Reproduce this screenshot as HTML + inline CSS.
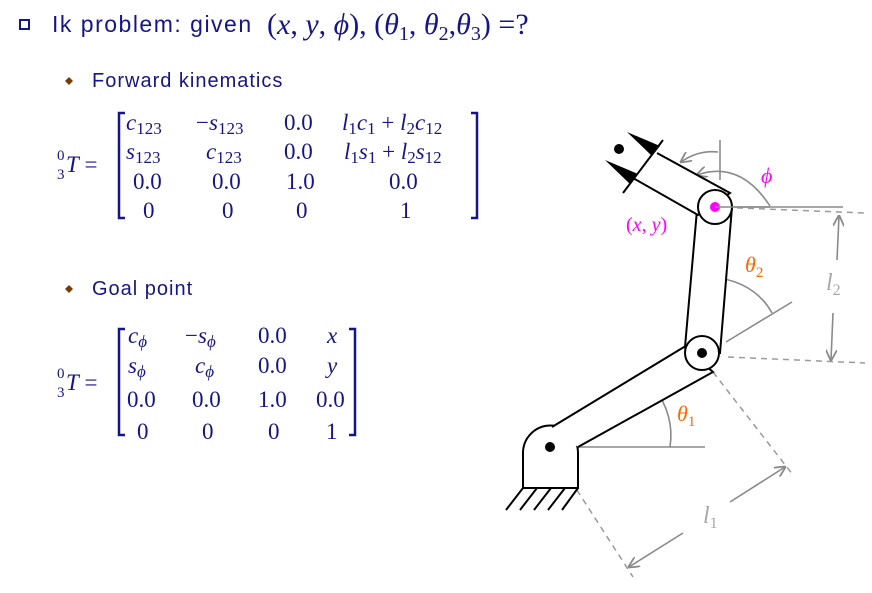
<!DOCTYPE html>
<html><head><meta charset="utf-8"><style>
html,body{margin:0;padding:0;background:#fff;width:872px;height:593px;overflow:hidden}
svg{display:block}
.t{font-family:"Liberation Sans",sans-serif;fill:#15158a}
.m{font-family:"Liberation Serif",serif;fill:#15158a;font-size:23px}
.i{font-style:italic}
.g{stroke:#8a8a8a;stroke-width:1.6;fill:none}
.d{stroke:#9a9a9a;stroke-width:1.5;fill:none;stroke-dasharray:6 5}
.k{stroke:#000;stroke-width:2;fill:#fff}
</style></head><body>
<svg width="872" height="593" viewBox="0 0 872 593">
<defs><marker id="ah" viewBox="0 0 10 10" refX="9" refY="5" markerWidth="7" markerHeight="7" orient="auto"><path d="M0,0 L10,5 L0,10" fill="none" stroke="#8a8a8a" stroke-width="1.6"/></marker></defs>
<rect x="0" y="0" width="872" height="593" fill="#fff"/>
<g>
<rect x="20" y="20" width="9" height="9" fill="#fff" stroke="#15158a" stroke-width="2"/>
<text class="t" x="52" y="32" font-size="23" letter-spacing="1.5">Ik problem: given</text>
<text class="m" x="267" y="34" style="font-size:30px">(<tspan class="i">x</tspan>, <tspan class="i">y</tspan>, <tspan class="i">ϕ</tspan>), (<tspan class="i">θ</tspan><tspan style="font-size:20px" dy="6">1</tspan><tspan dy="-6">, </tspan><tspan class="i">θ</tspan><tspan style="font-size:20px" dy="6">2</tspan><tspan dy="-6">,</tspan><tspan class="i">θ</tspan><tspan style="font-size:20px" dy="6">3</tspan><tspan dy="-6">) =?</tspan></text>
</g>
<g>
<path d="M65,81 l4,-4 l4,4 l-4,4z" fill="#7a3a00"/>
<text class="t" x="92" y="87" font-size="20" letter-spacing="1">Forward kinematics</text>
</g>
<g>
<text class="m" x="57" y="160" style="font-size:15px">0</text>
<text class="m" x="57" y="179" style="font-size:15px">3</text>
<text class="m" x="66" y="172"><tspan class="i">T</tspan> =</text>
<path d="M125,113 h-6 v105 h6" stroke="#15158a" stroke-width="2.5" fill="none"/>
<path d="M471,113 h6 v105 h-6" stroke="#15158a" stroke-width="2.5" fill="none"/>
<text class="m" x="126" y="130"><tspan class="i">c</tspan><tspan font-size="17" dy="4">123</tspan></text>
<text class="m" x="196" y="130">−<tspan class="i">s</tspan><tspan font-size="17" dy="4">123</tspan></text>
<text class="m" x="284" y="130">0.0</text>
<text class="m" x="342" y="130"><tspan class="i">l</tspan><tspan font-size="17" dy="4">1</tspan><tspan class="i" dy="-4">c</tspan><tspan font-size="17" dy="4">1</tspan><tspan dy="-4"> + </tspan><tspan class="i">l</tspan><tspan font-size="17" dy="4">2</tspan><tspan class="i" dy="-4">c</tspan><tspan font-size="17" dy="4">12</tspan></text>
<text class="m" x="126" y="159"><tspan class="i">s</tspan><tspan font-size="17" dy="4">123</tspan></text>
<text class="m" x="206" y="159"><tspan class="i">c</tspan><tspan font-size="17" dy="4">123</tspan></text>
<text class="m" x="284" y="159">0.0</text>
<text class="m" x="344" y="159"><tspan class="i">l</tspan><tspan font-size="17" dy="4">1</tspan><tspan class="i" dy="-4">s</tspan><tspan font-size="17" dy="4">1</tspan><tspan dy="-4"> + </tspan><tspan class="i">l</tspan><tspan font-size="17" dy="4">2</tspan><tspan class="i" dy="-4">s</tspan><tspan font-size="17" dy="4">12</tspan></text>
<text class="m" x="133" y="189">0.0</text><text class="m" x="212" y="189">0.0</text><text class="m" x="286" y="189">1.0</text><text class="m" x="389" y="189">0.0</text>
<text class="m" x="143" y="218">0</text><text class="m" x="222" y="218">0</text><text class="m" x="296" y="218">0</text><text class="m" x="400" y="218">1</text>
</g>
<g>
<path d="M65,289 l4,-4 l4,4 l-4,4z" fill="#7a3a00"/>
<text class="t" x="92" y="295" font-size="20" letter-spacing="1">Goal point</text>
</g>
<g>
<text class="m" x="57" y="378" style="font-size:15px">0</text>
<text class="m" x="57" y="397" style="font-size:15px">3</text>
<text class="m" x="66" y="390"><tspan class="i">T</tspan> =</text>
<path d="M125,329 h-6 v106 h6" stroke="#15158a" stroke-width="2.5" fill="none"/>
<path d="M349,329 h6 v106 h-6" stroke="#15158a" stroke-width="2.5" fill="none"/>
<text class="m" x="128" y="343"><tspan class="i">c</tspan><tspan font-size="17" class="i" dy="4">ϕ</tspan></text>
<text class="m" x="185" y="343">−<tspan class="i">s</tspan><tspan font-size="17" class="i" dy="4">ϕ</tspan></text>
<text class="m" x="258" y="343">0.0</text>
<text class="m i" x="327" y="343">x</text>
<text class="m" x="128" y="373"><tspan class="i">s</tspan><tspan font-size="17" class="i" dy="4">ϕ</tspan></text>
<text class="m" x="195" y="373"><tspan class="i">c</tspan><tspan font-size="17" class="i" dy="4">ϕ</tspan></text>
<text class="m" x="258" y="373">0.0</text>
<text class="m i" x="327" y="373">y</text>
<text class="m" x="127" y="407">0.0</text><text class="m" x="192" y="407">0.0</text><text class="m" x="258" y="407">1.0</text><text class="m" x="316" y="407">0.0</text>
<text class="m" x="137" y="439">0</text><text class="m" x="202" y="439">0</text><text class="m" x="268" y="439">0</text><text class="m" x="326" y="439">1</text>
</g>
<g>
<path class="g" d="M550,447 H705"/>
<path class="g" d="M715,207 H843"/>
<path class="g" d="M726,342 L792,302"/>
<path class="g" d="M720,140 V180"/>
<path class="d" d="M715,207 L865,213"/>
<path class="d" d="M728,357 L865,363"/>
<path class="d" d="M713,372 L793,475"/>
<path class="d" d="M553,453 L633,577"/>
<path class="g" marker-end="url(#ah)" d="M670,447 Q675,415 653,386"/>
<path class="g" marker-end="url(#ah)" d="M772,313 Q755,282 713,277"/>
<path class="g" marker-end="url(#ah)" d="M770,206 Q740,160 697,175"/>
<path class="g" marker-end="url(#ah)" d="M718,152 Q698,150 681,162"/>
<path class="g" marker-end="url(#ah)" d="M837,260 L839,216"/>
<path class="g" marker-end="url(#ah)" d="M833,313 L831,360"/>
<path class="g" marker-end="url(#ah)" d="M730,502 L785,467"/>
<path class="g" marker-end="url(#ah)" d="M683,533 L629,567"/>
<text font-family="Liberation Serif,serif" font-style="italic" font-size="24" fill="#a8a8a8" x="826" y="290">l<tspan font-style="normal" font-size="16" dy="5">2</tspan></text>
<text font-family="Liberation Serif,serif" font-style="italic" font-size="24" fill="#a8a8a8" x="703" y="523">l<tspan font-style="normal" font-size="16" dy="5">1</tspan></text>
<path d="M506,510 L523,488 M520,510 L537,488 M534,510 L551,488 M548,510 L565,488 M562,510 L578,488" stroke="#000" stroke-width="2"/>
<path class="k" d="M523,488 V453 A27.5,27.5 0 0 1 578,453 V488 Z"/>
<path class="k" d="M552,427 L684,347 L713,372 L578,447"/>
<path class="k" d="M697,210 L685,347 L720,353 L732,207 Z"/>
<path class="k" d="M657,153 L730,193 L698,215 L633,178"/>
<path d="M663,140 L623,193" stroke="#000" stroke-width="2"/>
<path d="M627,132 L660,146 L652,156 Z M605,160 L638,174 L630,184 Z" fill="#000"/>
<circle cx="619" cy="149" r="5" fill="#000"/>
<circle class="k" cx="702" cy="353" r="17"/>
<circle class="k" cx="715" cy="207" r="17"/>
<circle cx="550" cy="447" r="5" fill="#000"/>
<circle cx="702" cy="353" r="5" fill="#000"/>
<circle cx="715" cy="207" r="5" fill="#ff00ff"/>
<path class="g" d="M715,207 H770"/>
<text font-family="Liberation Serif,serif" font-style="italic" font-size="22" fill="#ff00ff" x="761" y="183">ϕ</text>
<text font-family="Liberation Serif,serif" font-size="20" fill="#ff00ff" x="626" y="231">(<tspan font-style="italic">x</tspan>, <tspan font-style="italic">y</tspan>)</text>
<text font-family="Liberation Serif,serif" font-style="italic" font-size="22" fill="#ff6600" x="745" y="272">θ<tspan font-style="normal" font-size="15" dy="5">2</tspan></text>
<text font-family="Liberation Serif,serif" font-style="italic" font-size="22" fill="#ff6600" x="677" y="421">θ<tspan font-style="normal" font-size="15" dy="5">1</tspan></text>
</g>
</svg>
</body></html>
